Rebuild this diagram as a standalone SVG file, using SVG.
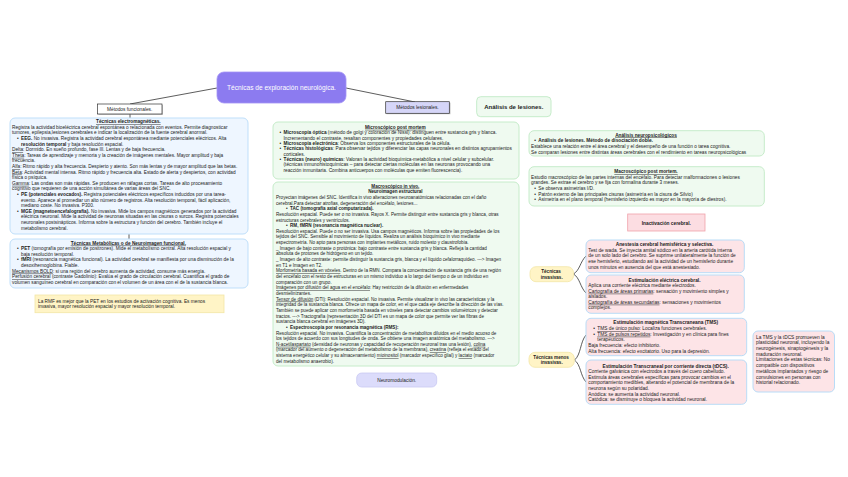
<svg xmlns="http://www.w3.org/2000/svg" width="848" height="477" viewBox="0 0 848 477">
<style>
text{font-family:"Liberation Sans",Arial,sans-serif;fill:#222}
.s{font-size:4.75px}
.sm{font-size:4.6px}
.p{font-size:4.8px}
.c{text-anchor:middle}
.b{font-weight:bold}
.u{text-decoration:underline}
.blue{fill:#eef6ff;stroke:#bfdffa;stroke-width:1}
.green{fill:#effaf0;stroke:#c6ecca;stroke-width:1}
.pink{fill:#fde4e7;stroke:#b9dcf7;stroke-width:1}
.yellow{fill:#fff4c6;stroke:#f2e6a6;stroke-width:0.8}
.con{fill:none;stroke:#333;stroke-width:0.8}
</style>

<g id="connectors">
<line class="con" x1="217" y1="88" x2="130" y2="104"/>
<line class="con" x1="346" y1="88" x2="415" y2="102"/>
<line class="con" x1="130" y1="114" x2="130" y2="118"/>
<line class="con" x1="129" y1="234" x2="129" y2="239"/>
<path class="con" d="M573.5,274 C580,270 580,262 586,256"/>
<path class="con" d="M573.5,274 C580,278 580,287 586,293"/>
<path class="con" d="M574.5,360 C581,355 580,342 586,335"/>
<path class="con" d="M574.5,360 C581,365 580,375 586,382"/>
</g>

<g id="title">
<rect x="217" y="72" width="129" height="31" rx="7" fill="#8c7bf0" stroke="#a394f5" stroke-width="0.8"/>
<text x="281.5" y="89.5" class="c" style="font-size:6.6px;fill:#fff">Técnicas de exploración neurológica.</text>
</g>

<g id="metodos-funcionales">
<rect x="98.5" y="105" width="64.5" height="10" fill="#999" opacity="0.5"/>
<rect x="97.5" y="104" width="64.5" height="10" fill="#fff" stroke="#333" stroke-width="0.7"/>
<text x="129.7" y="110.8" class="c" style="font-size:4.8px">Métodos funcionales.</text>
</g>

<g id="metodos-lesionales">
<rect x="386.5" y="102.7" width="64" height="11.5" fill="#888" opacity="0.5"/>
<rect x="385.7" y="101.7" width="63.6" height="11.6" fill="#d6d6f8" stroke="#333" stroke-width="0.7"/>
<text x="417.5" y="109.2" class="c" style="font-size:4.8px">Métodos lesionales.</text>
</g>

<g id="analisis-lesiones">
<rect x="476.7" y="96.7" width="74.3" height="20" rx="4" class="green"/>
<text x="513.8" y="108.8" class="c b" style="font-size:6px">Análisis de lesiones.</text>
</g>

<g id="tecnicas-electromagneticas">
<rect x="10" y="118" width="238" height="116" rx="5" class="blue"/>
<text class="s">
<tspan x="129" y="123.2" class="c b u">Técnicas electromagnéticas.</tspan>
<tspan x="12" y="128.8">Registra la actividad bioeléctrica cerebral espontánea o relacionada con eventos. Permite diagnosticar</tspan>
<tspan x="12" y="134.4">tumores, epilepsia,lesiones cerebrales e indicar la localización de la fuente cerebral anormal.</tspan>
<tspan x="17" y="140">•</tspan><tspan x="21" y="140"><tspan class="b">EEG.</tspan> No invasiva. Registra la actividad cerebral espontánea mediante potenciales eléctricos. Alta</tspan>
<tspan x="21" y="145.6"><tspan class="b">resolución temporal</tspan> y baja resolución espacial.</tspan>
<tspan x="12" y="151.2"><tspan class="u">Delta</tspan>: Dormido. En sueño profundo, fase III. Lentas y de baja frecuencia.</tspan>
<tspan x="12" y="156.8"><tspan class="u">Theta</tspan>: Tareas de aprendizaje y memoria y la creación de imágenes mentales. Mayor amplitud y baja</tspan>
<tspan x="12" y="162.4">frecuencia.</tspan>
<tspan x="12" y="168"><tspan class="u">Alfa</tspan>: Ritmo rápido y alta frecuencia. Despierto y atento. Son más lentas y de mayor amplitud que las betas.</tspan>
<tspan x="12" y="173.6"><tspan class="u">Beta</tspan>: Actividad mental intensa. Ritmo rápido y frecuencia alta. Estado de alerta y despiertos, con actividad</tspan>
<tspan x="12" y="179.2">física o psíquica.</tspan>
<tspan x="12" y="184.8"><tspan class="u">Gamma</tspan>: Las ondas son más rápidas. Se producen en ráfagas cortas. Tareas de alto procesamiento</tspan>
<tspan x="12" y="190.4">cognitivo que requieren de una acción simultánea de varias áreas del SNC.</tspan>
<tspan x="17" y="196">•</tspan><tspan x="21" y="196"><tspan class="b">PE (potenciales evocados).</tspan> Registra potenciales eléctricos específicos inducidos por una tarea-</tspan>
<tspan x="21" y="201.6">evento. Aparece al promediar un alto número de registros. Alta resolución temporal, fácil aplicación,</tspan>
<tspan x="21" y="207.2">mediano coste. No invasiva. P300.</tspan>
<tspan x="17" y="212.8">•</tspan><tspan x="21" y="212.8"><tspan class="b">MGE (magnetoencefalografía).</tspan> No invasiva. Mide los campos magnéticos generados por la actividad</tspan>
<tspan x="21" y="218.4">eléctrica neuronal. Mide la actividad de neuronas situadas en las cisuras o surcos. Registra potenciales</tspan>
<tspan x="21" y="224">neuronales postsinápticos. Informa sobre la estructura y función del cerebro. También incluye el</tspan>
<tspan x="21" y="229.6">metabolismo cerebral.</tspan>
</text>
</g>

<g id="tecnicas-metabolicas">
<rect x="10" y="239" width="238" height="49" rx="5" class="blue"/>
<text class="s">
<tspan x="129" y="244.6" class="c b u">Técnicas Metabólicas o de Neuroimagen funcional.</tspan>
<tspan x="17" y="250.2">•</tspan><tspan x="21" y="250.2"><tspan class="b">PET</tspan> (tomografía por emisión de positrones). Mide el metabolismo central. Alta resolución espacial y</tspan>
<tspan x="21" y="255.8">baja resolución temporal.</tspan>
<tspan x="17" y="261.4">•</tspan><tspan x="21" y="261.4"><tspan class="b">fMRI</tspan> (resonancia magnética funcional). La actividad cerebral se manifiesta por una disminución de la</tspan>
<tspan x="21" y="267">desoxihemoglobina. Fiable.</tspan>
<tspan x="12" y="272.6"><tspan class="u">Mecanismos BOLD</tspan>: si una región del cerebro aumenta de actividad, consume más energía.</tspan>
<tspan x="12" y="278.2"><tspan class="u">Perfusión cerebral</tspan> (contraste Gadolinio): Evalúa el grado de circulación cerebral. Cuantifica el grado de</tspan>
<tspan x="12" y="283.8">volumen sanguíneo cerebral en comparación con el volumen de un área con el de la sustancia blanca.</tspan>
</text>
</g>

<g id="nota-rmf">
<rect x="35" y="295" width="189" height="17.7" class="yellow"/>
<text class="s">
<tspan x="38" y="302.5">La RMF es mejor que la PET en los estudios de activación cognitiva. Es menos</tspan>
<tspan x="38" y="308">invasiva, mayor resolución espacial y mayor resolución temporal.</tspan>
</text>
</g>

<g id="microscopico-post-mortem">
<rect x="273" y="122" width="246" height="57" rx="5" class="green"/>
<text class="s">
<tspan x="396" y="128.8" class="c b u">Microscópico post mortem</tspan>
<tspan x="279.5" y="134.15">•</tspan><tspan x="283.5" y="134.15"><tspan class="b">Microscopía óptica</tspan> (método de golgi y coloración de Nissl): distinguen entre sustancia gris y blanca.</tspan>
<tspan x="283.5" y="139.5">Incrementando el contraste, resaltan componentes y propiedades celulares.</tspan>
<tspan x="279.5" y="144.85">•</tspan><tspan x="283.5" y="144.85"><tspan class="b">Microscopía electrónica</tspan>: Observa los componentes estructurales de la célula.</tspan>
<tspan x="279.5" y="150.2">•</tspan><tspan x="283.5" y="150.2"><tspan class="b">Técnicas histológicas</tspan>: Para observar tejidos y diferenciar las capas neuronales en distintos agrupamientos</tspan>
<tspan x="283.5" y="155.55">corticales.</tspan>
<tspan x="279.5" y="160.9">•</tspan><tspan x="283.5" y="160.9"><tspan class="b">Técnicas (neuro) químicas</tspan>: Valoran la actividad bioquímica-metabólica a nivel celular y subcelular.</tspan>
<tspan x="283.5" y="166.25">(técnicas inmunohistoquímicas – para detectar ciertas moléculas en las neuronas provocando una</tspan>
<tspan x="283.5" y="171.6">reacción inmunitaria. Combina anticuerpos con moléculas que emiten fluorescencia).</tspan>
</text>
</g>

<g id="macroscopico-in-vivo">
<rect x="273" y="182" width="246" height="184" rx="5" class="green"/>
<text class="sm">
<tspan x="396" y="187.6" class="c b u">Macroscópico in vivo.</tspan>
<tspan x="396" y="193.25" class="c b">Neuroimagen estructural</tspan>
<tspan x="276" y="198.9">Proyectan imágenes del SNC. Identifica in vivo alteraciones neuroanatómicas relacionadas con el daño</tspan>
<tspan x="276" y="204.55">cerebral.Para detectar atrofias, degeneración del encéfalo, lesiones...</tspan>
<tspan x="286" y="210.2" class="b">•</tspan><tspan x="290" y="210.2" class="b">TAC (tomografía axial computarizada).</tspan>
<tspan x="276" y="215.85">Resolución espacial. Puede ser o no invasiva. Rayos X. Permite distinguir entre sustancia gris y blanca, otras</tspan>
<tspan x="276" y="221.5">estructuras cerebrales y ventrículos.</tspan>
<tspan x="286" y="227.15" class="b">•</tspan><tspan x="290" y="227.15" class="b">RM, fMRN (resonancia magnética nuclear).</tspan>
<tspan x="276" y="232.8">Resolución espacial. Puede o no ser invasiva. Usa campos magnéticos. Informa sobre las propiedades de los</tspan>
<tspan x="276" y="238.45">tejidos del SNC. Sensible al movimiento de líquidos. Realiza un análisis bioquímico in vivo mediante</tspan>
<tspan x="276" y="244.1">espectrometría. No apto para personas con implantes metálicos, ruido molesto y claustrofobia.</tspan>
<tspan x="276" y="249.75">_ Imagen de bajo contraste o protónica: bajo contraste entre sustancia gris y blanca. Refleja la cantidad</tspan>
<tspan x="276" y="255.4">absoluta de protones de hidrógeno en un tejido.</tspan>
<tspan x="276" y="261.05">_ Imagen de alto contraste: permite distinguir la sustancia gris, blanca y el líquido cefalorraquídeo. ---&gt; Imagen</tspan>
<tspan x="276" y="266.7">en T1 e Imagen en T2.</tspan>
<tspan x="276" y="272.35"><tspan class="u">Morfometría basada en vóxeles</tspan>. Dentro de la RMN. Compara la concentración de sustancia gris de una región</tspan>
<tspan x="276" y="278">del encéfalo con el resto de estructuras en un mismo individuo a lo largo del tiempo o de un individuo en</tspan>
<tspan x="276" y="283.65">comparación con un grupo.</tspan>
<tspan x="276" y="289.3"><tspan class="u">Imágenes por difusión del agua en el encéfalo</tspan>: Hay restricción de la difusión en enfermedades</tspan>
<tspan x="276" y="294.95">desmielinizantes.</tspan>
<tspan x="276" y="300.6"><tspan class="u">Tensor de difusión</tspan> (DTI): Resolución espacial. No invasiva. Permite visualizar in vivo las características y la</tspan>
<tspan x="276" y="306.25">integridad de la sustancia blanca. Ofrece un mapa de color, en el que cada eje describe la dirección de las vías.</tspan>
<tspan x="276" y="311.9">También se puede aplicar con morfometría basada en vóxeles para detectar cambios volumétricos y detectar</tspan>
<tspan x="276" y="317.55">tractos. ---&gt; Tractografía (representación 3D del DTI es un mapa de color que permite ver las fibras de</tspan>
<tspan x="276" y="323.2">sustancia blanca cerebral en imágenes 3D).</tspan>
<tspan x="286" y="328.85" class="b">•</tspan><tspan x="290" y="328.85" class="b">Espectroscopía por resonancia magnética (RMS):</tspan>
<tspan x="276" y="334.5">Resolución espacial. No invasiva. Cuantifica la concentración de metabolitos diluidos en el medio acuoso de</tspan>
<tspan x="276" y="340.15">los tejidos de acuerdo con sus longitudes de onda. Se obtiene una imagen anatómica del metabolismo. ---&gt;</tspan>
<tspan x="276" y="345.8"><tspan class="u">N-acetilaspartato</tspan> (densidad de neuronas y capacidad de recuperación neuronal tras una lesión), <tspan class="u">colina</tspan></tspan>
<tspan x="276" y="351.45">(marcador del aumento o degeneración del metabolismo de la membrana), <tspan class="u">creatina</tspan> (refleja el estado del</tspan>
<tspan x="276" y="357.1">sistema energético celular y su almacenamiento) <tspan class="u">mioinositol</tspan> (marcador específico glial) y <tspan class="u">lactato</tspan> (marcador</tspan>
<tspan x="276" y="362.75">del metabolismo anaerobio).</tspan>
</text>
</g>

<g id="neuromodulacion">
<rect x="356.7" y="373" width="80" height="14" rx="5" fill="#dcdcfb" stroke="#c9c9f3" stroke-width="0.8"/>
<text x="396.7" y="381.6" class="c" style="font-size:4.8px">Neuromodulación.</text>
</g>

<g id="analisis-neuropsicologicos">
<rect x="529" y="130.7" width="235.3" height="25.3" rx="5" class="green"/>
<text class="s">
<tspan x="646.7" y="136.5" class="c b u">Análisis neuropsicológicos</tspan>
<tspan x="534.3" y="142" class="b">•</tspan><tspan x="538.3" y="142" class="b">Análisis de lesiones. Método de disociación doble.</tspan>
<tspan x="531" y="147.8">Establece una relación entre el área cerebral y el desempeño de una función o tarea cognitiva.</tspan>
<tspan x="531" y="153.6">Se comparan lesiones entre distintas áreas cerebrales con el rendimiento en tareas neuropsicológicas</tspan>
</text>
</g>

<g id="macroscopico-post-mortem">
<rect x="529" y="166.7" width="235.3" height="39.3" rx="5" class="green"/>
<text class="s">
<tspan x="646.7" y="173.2" class="c b u">Macroscópico post mortem.</tspan>
<tspan x="531" y="178.8">Estudio macroscópico de las partes internas del encéfalo. Para detectar malformaciones o lesiones</tspan>
<tspan x="531" y="184.3">grandes. Se extrae el cerebro y se fija con formalina durante 3 meses.</tspan>
<tspan x="534.3" y="189.8">•</tspan><tspan x="538.3" y="189.8">Se observa asimetrías I/D.</tspan>
<tspan x="534.3" y="195.5">•</tspan><tspan x="538.3" y="195.5">Patrón externo de las principales cisuras (asimetría en la cisura de Silvio)</tspan>
<tspan x="534.3" y="201.2">•</tspan><tspan x="538.3" y="201.2">Asimetría en el plano temporal (hemisferio izquierdo es mayor en la mayoría de diestros).</tspan>
</text>
</g>

<g id="inactivacion-cerebral">
<rect x="627.7" y="214" width="77.3" height="17" fill="#fcdde2" stroke="#f0a2aa" stroke-width="0.8"/>
<text x="666.3" y="224.6" class="c b" style="font-size:4.8px">Inactivación cerebral.</text>
</g>

<g id="tecnicas-invasivas">
<rect x="530" y="266.7" width="43.5" height="15" rx="6" class="yellow"/>
<text class="c b" style="font-size:4.6px">
<tspan x="551.7" y="273.2">Técnicas</tspan>
<tspan x="551.7" y="278.7">invasivas.</tspan>
</text>
</g>

<g id="anestesia">
<rect x="586" y="240" width="158.3" height="32.7" rx="5" class="pink"/>
<text class="p">
<tspan x="665.2" y="246" class="c b">Anestesia cerebral hemisférica y selectiva.</tspan>
<tspan x="588.3" y="251.7">Test de wada. Se inyecta amital sódico en la arteria carótida interna</tspan>
<tspan x="588.3" y="257.4">de un solo lado del cerebro. Se suprime unilateralmente la función de</tspan>
<tspan x="588.3" y="263">ese hemisferio, estudiando así la actividad de un hemisferio durante</tspan>
<tspan x="588.3" y="268.7">unos minutos en ausencia del que está anestesiado.</tspan>
</text>
</g>

<g id="estimulacion-electrica">
<rect x="586" y="275" width="158.3" height="38.3" rx="5" class="pink"/>
<text class="p">
<tspan x="665.2" y="282" class="c b">Estimulación eléctrica cerebral.</tspan>
<tspan x="588.3" y="287.4">Aplica una corriente eléctrica mediante electrodos.</tspan>
<tspan x="588.3" y="292.7"><tspan class="u">Cartografía de áreas primarias</tspan>: sensación y movimiento simples y</tspan>
<tspan x="588.3" y="298">aislados.</tspan>
<tspan x="588.3" y="303.7"><tspan class="u">Cartografía de áreas secundarias</tspan>: sensaciones y movimientos</tspan>
<tspan x="588.3" y="309.4">complejos.</tspan>
</text>
</g>

<g id="tecnicas-menos-invasivas">
<rect x="529" y="352.3" width="45.3" height="15" rx="6" class="yellow"/>
<text class="c b" style="font-size:4.6px">
<tspan x="551.7" y="358.8">Técnicas menos</tspan>
<tspan x="551.7" y="364.3">invasivas.</tspan>
</text>
</g>

<g id="tms">
<rect x="586" y="318.3" width="160.7" height="37.4" rx="5" class="pink"/>
<text class="p">
<tspan x="666.3" y="324.4" class="c b">Estimulación magnética Transcraneana (TMS)</tspan>
<tspan x="593.3" y="330">•</tspan><tspan x="597.3" y="330"><tspan class="u">TMS de único pulso</tspan>: Localiza funciones cerebrales.</tspan>
<tspan x="593.3" y="335.7">•</tspan><tspan x="597.3" y="335.7"><tspan class="u">TMS de pulsos repetidos</tspan>: Investigación y en clínica para fines</tspan>
<tspan x="597.3" y="341">terapéuticos.</tspan>
<tspan x="588.3" y="346.7">Baja frecuencia: efecto inhibitorio.</tspan>
<tspan x="588.3" y="352.5">Alta frecuencia: efecto excitatorio. Uso para la depresión.</tspan>
</text>
</g>

<g id="tdcs">
<rect x="586" y="360" width="160.7" height="44.3" rx="5" class="pink"/>
<text class="p">
<tspan x="666.3" y="367.7" class="c b">Estimulación Transcraneal por corriente directa (tDCS).</tspan>
<tspan x="588.3" y="373">Corriente galvánica con electrodos a través del cuero cabelludo.</tspan>
<tspan x="588.3" y="378.7">Estimula áreas cerebrales específicas para provocar cambios en el</tspan>
<tspan x="588.3" y="384.4">comportamiento medibles, alterando el potencial de membrana de la</tspan>
<tspan x="588.3" y="390">neurona según su polaridad.</tspan>
<tspan x="588.3" y="395.7">Anódica: se aumenta la actividad neuronal.</tspan>
<tspan x="588.3" y="401.4">Catódica: se disminuye o bloquea la actividad neuronal.</tspan>
</text>
</g>

<g id="nota-tms-tdcs">
<rect x="753" y="331" width="81.5" height="61" rx="5" class="pink"/>
<text style="font-size:4.8px">
<tspan x="756" y="338.6">La TMS y la tDCS promueven la</tspan>
<tspan x="756" y="344.3">plasticidad neuronal, incluyendo la</tspan>
<tspan x="756" y="350">neurogénesis, sinaptogénesis y la</tspan>
<tspan x="756" y="355.7">maduración neuronal.</tspan>
<tspan x="756" y="361.4">Limitaciones de estas técnicas: No</tspan>
<tspan x="756" y="367.1">compatible con dispositivos</tspan>
<tspan x="756" y="372.8">metálicos implantados y riesgo de</tspan>
<tspan x="756" y="378.5">convulsiones en personas con</tspan>
<tspan x="756" y="384.2">historial relacionado.</tspan>
</text>
</g>
</svg>
